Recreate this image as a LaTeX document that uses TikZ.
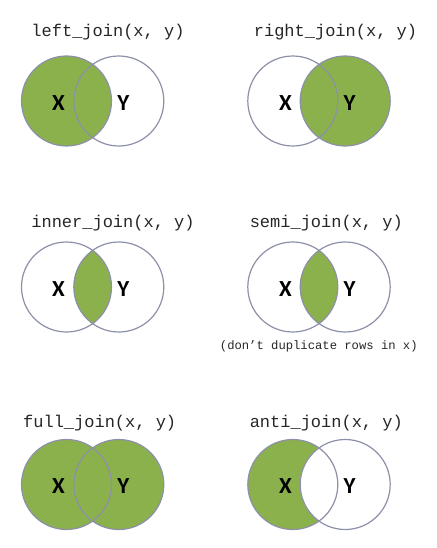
\documentclass[tikz,border=0pt]{standalone}
\usepackage{fontspec}
\newfontfamily\codefont{Liberation Mono}
\newfontfamily\labelfont{Carlito}
\definecolor{joingreen}{HTML}{8BB14C}
\definecolor{rimgray}{HTML}{8C90A8}
\tikzset{
  jointitle/.style={font=\codefont\fontsize{17}{20}\selectfont, text=black!85},
  joinnote/.style={font=\codefont\fontsize{12.2}{14}\selectfont, text=black!85},
  setname/.style={font=\labelfont\bfseries\fontsize{23}{26}\selectfont},
  rim/.style={draw=rimgray, line width=1.2pt},
  shade/.style={fill=joingreen},
}
\begin{document}
\begin{tikzpicture}[x=1pt, y=-1pt]
\useasboundingbox (0,0) rectangle (436,548);

% left_join
\fill[shade] (66.5,101) circle (45);
\draw[rim] (66.5,101) circle (45) (118.8,101) circle (45);
\node[jointitle] (lefttitle) at (108,32) {left\_join(x, y)};
\node[setname] (leftx) at (58.5,103) {X};
\node[setname] (lefty) at (123.3,103) {Y};

% right_join
\fill[shade] (345.2,101) circle (45);
\draw[rim] (292.8,101) circle (45) (345.2,101) circle (45);
\node[jointitle] (righttitle) at (335.5,32) {right\_join(x, y)};
\node[setname] (rightx) at (285.5,103) {X};
\node[setname] (righty) at (349.7,103) {Y};

% inner_join
\begin{scope}
  \clip (66.5,287) circle (45);
  \fill[shade] (118.8,287) circle (45);
\end{scope}
\draw[rim] (66.5,287) circle (45) (118.8,287) circle (45);
\node[jointitle] (innertitle) at (113,223) {inner\_join(x, y)};
\node[setname] (innerx) at (58.5,289) {X};
\node[setname] (innery) at (123.3,289) {Y};

% semi_join
\begin{scope}
  \clip (292.8,287) circle (45);
  \fill[shade] (345.2,287) circle (45);
\end{scope}
\draw[rim] (292.8,287) circle (45) (345.2,287) circle (45);
\node[jointitle] (semititle) at (326.3,223) {semi\_join(x, y)};
\node[joinnote] (seminote) at (318.8,346.7) {(don’t duplicate rows in x)};
\node[setname] (semix) at (285.5,289) {X};
\node[setname] (semiy) at (349.7,289) {Y};

% full_join
\fill[shade] (66.5,484.5) circle (45) (118.8,484.5) circle (45);
\draw[rim] (66.5,484.5) circle (45) (118.8,484.5) circle (45);
\node[jointitle] (fulltitle) at (99.7,423.3) {full\_join(x, y)};
\node[setname] (fullx) at (58.5,486.5) {X};
\node[setname] (fully) at (123.3,486.5) {Y};

% anti_join
\fill[shade] (292.8,484.5) circle (45);
\begin{scope}
  \clip (292.8,484.5) circle (45);
  \fill[white] (345.2,484.5) circle (45);
\end{scope}
\draw[rim] (292.8,484.5) circle (45) (345.2,484.5) circle (45);
\node[jointitle] (antititle) at (326.3,423.3) {anti\_join(x, y)};
\node[setname] (antix) at (285.5,486.5) {X};
\node[setname] (antiy) at (349.7,486.5) {Y};
\end{tikzpicture}
\end{document}
